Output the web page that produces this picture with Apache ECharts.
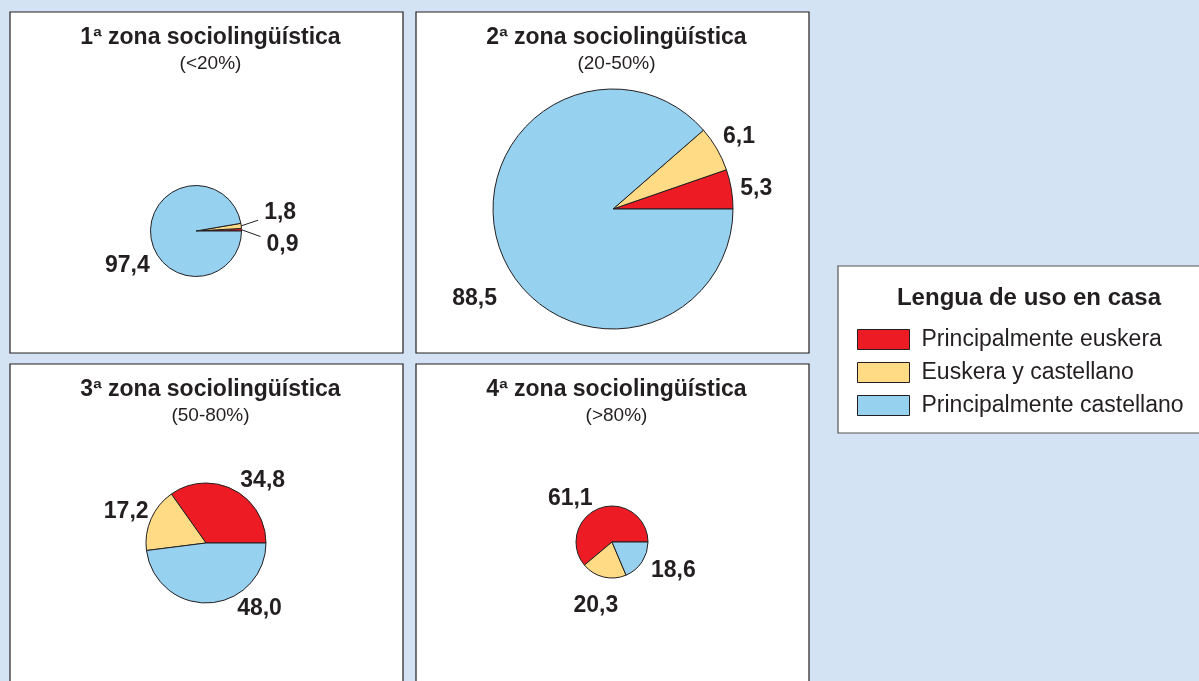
<!DOCTYPE html>
<html>
<head>
<meta charset="utf-8">
<script src="https://cdn.jsdelivr.net/npm/echarts@6/dist/echarts.min.js"></script>
<style>
html,body{margin:0;padding:0;background:#d3e3f3;}
#chart{width:1199px;height:681px;}
</style>
</head>
<body>
<div id="chart"></div>
<script>
const zoneTitles = ['1ª zona sociolingüística', '2ª zona sociolingüística', '3ª zona sociolingüística', '4ª zona sociolingüística'];
const zoneRanges = ['(<20%)', '(20-50%)', '(50-80%)', '(>80%)'];
const categories = ['Principalmente euskera', 'Euskera y castellano', 'Principalmente castellano'];
const principalmenteEuskera = [0.9, 5.3, 34.8, 61.1];
const euskeraYCastellano = [1.8, 6.1, 17.2, 20.3];
const principalmenteCastellano = [97.4, 88.5, 48.0, 18.6];
const legendTitle = 'Lengua de uso en casa';

const colors = ['#ed1c24', '#fedb84', '#97d1f0'];
const ink = '#231f20';
const FONT = '"Liberation Sans", Arial, Helvetica, sans-serif';

// layout (pixels)
const panels = [
  {x: 10, y: 12, w: 393, h: 341},
  {x: 416, y: 12, w: 393, h: 341},
  {x: 10, y: 364, w: 393, h: 341},
  {x: 416, y: 364, w: 393, h: 341}
];
const pieLayout = [
  {c: [196, 231], r: 45.5},
  {c: [613, 209], r: 120},
  {c: [206, 543], r: 60},
  {c: [612, 542], r: 36}
];
// label nudges [dx, dy] per pie, per slice (red, yellow, blue) — layout only
const labelNudge = [
  [[-5, 15], [-7, -12], [29, 30]],
  [[-1, 1], [-3, -9], [6, 45]],
  [[0, -4], [7, -5], [23, 0]],
  [[-1, -4], [20, 23], [0, 5]]
];

const chart = echarts.init(document.getElementById('chart'), null, {renderer: 'canvas'});

const fmt = v => v.toFixed(1).replace('.', ',');

const titles = zoneTitles.map((t, i) => ({
  text: t,
  subtext: zoneRanges[i],
  left: panels[i].x + panels[i].w / 2 - 1,
  top: panels[i].y + 9,
  textAlign: 'center',
  itemGap: 5,
  textStyle: {fontFamily: FONT, fontSize: 23, fontWeight: 'bold', color: ink},
  subtextStyle: {fontFamily: FONT, fontSize: 19, color: ink}
}));
titles.push({
  text: legendTitle,
  left: 1024,
  top: 281,
  textAlign: 'center',
  textStyle: {fontFamily: FONT, fontSize: 24, fontWeight: 'bold', color: ink}
});

const series = zoneTitles.map((t, i) => {
  const small = i === 0;
  const vals = [principalmenteEuskera, euskeraYCastellano, principalmenteCastellano];
  return {
    type: 'pie',
    center: pieLayout[i].c,
    radius: pieLayout[i].r,
    startAngle: 0,
    clockwise: false,
    avoidLabelOverlap: false,
    minAngle: 0,
    itemStyle: {borderColor: ink, borderWidth: 1},
    emphasis: {disabled: true},
    label: {
      show: true,
      position: 'outside',
      formatter: p => fmt(p.value),
      fontFamily: FONT,
      fontSize: 23,
      fontWeight: 'bold',
      color: ink,
      distanceToLabelLine: small ? 6 : 2
    },
    labelLine: {
      show: false,
      length: small ? 10 : 6,
      length2: small ? 14 : 2,
      lineStyle: {color: ink, width: 1}
    },
    labelLayout: p => {
      const n = labelNudge[i][p.dataIndex];
      const out = {dx: n[0], dy: n[1]};
      if (small && p.labelLinePoints && p.dataIndex < 2) {
        const s = p.labelLinePoints[0];
        const r = p.labelRect;
        const cx = r.x + n[0] + r.width / 2;
        const cy = r.y + n[1] + r.height / 2;
        const ex = r.x + n[0] - 6;
        const ey = s[1] + (cy - s[1]) * (ex - s[0]) / (cx - s[0]);
        out.labelLinePoints = [[s[0], s[1]], [(s[0] + ex) / 2, (s[1] + ey) / 2], [ex, ey]];
      }
      return out;
    },
    data: categories.map((c, k) => ({
      name: c,
      value: vals[k][i],
      itemStyle: {color: colors[k]},
      labelLine: {show: small && k < 2}
    }))
  };
});

const graphics = panels.map(p => ({
  type: 'rect',
  z: -10,
  shape: {x: p.x, y: p.y, width: p.w, height: p.h},
  style: {fill: '#ffffff', stroke: ink, lineWidth: 1.2}
}));
graphics.push({
  type: 'rect',
  z: -10,
  shape: {x: 838, y: 266, width: 380, height: 167},
  style: {fill: '#ffffff', stroke: '#555555', lineWidth: 1.2}
});

chart.setOption({
  animation: false,
  backgroundColor: '#d3e3f3',
  color: colors,
  title: titles,
  graphic: graphics,
  legend: {
    data: categories,
    orient: 'vertical',
    left: 852,
    top: 323,
    itemWidth: 52,
    itemHeight: 20,
    itemGap: 10,
    icon: 'rect',
    selectedMode: false,
    itemStyle: {borderColor: ink, borderWidth: 1},
    textStyle: {fontFamily: FONT, fontSize: 23, color: ink, lineHeight: 20, padding: [0, 0, 0, 7]}
  },
  series: series
});
</script>
</body>
</html>
